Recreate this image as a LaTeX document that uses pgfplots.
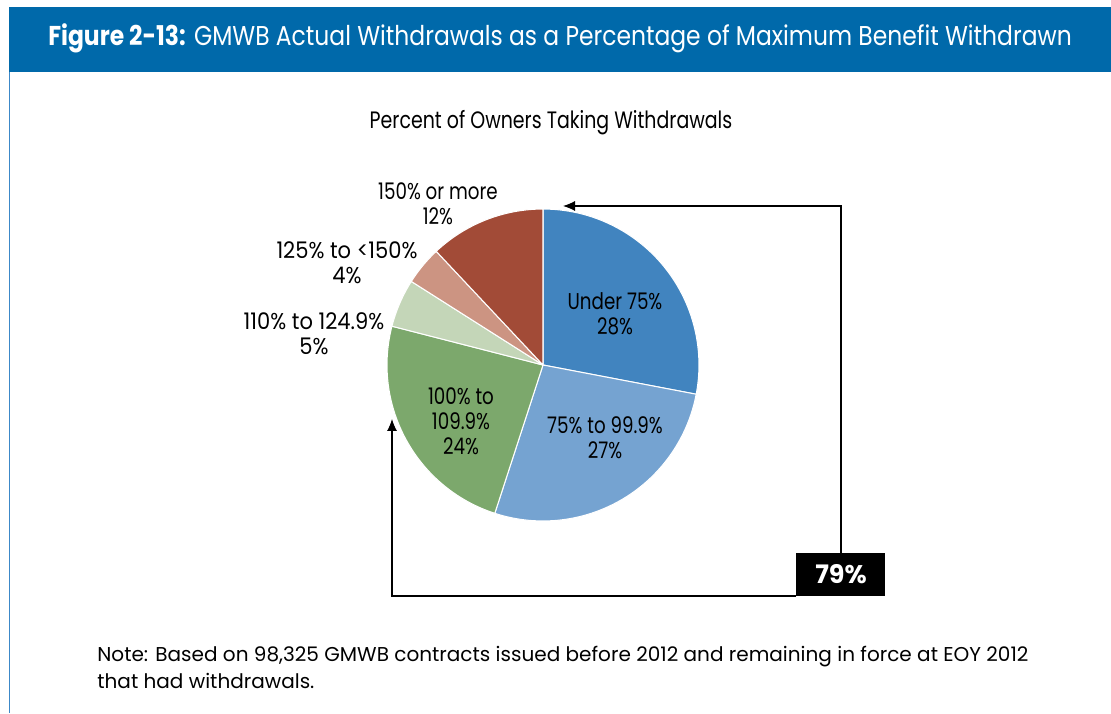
\documentclass[border=0pt]{standalone}
\usepackage{pgfplots}
\pgfplotsset{compat=1.18}
\usepackage{pgfplotstable}
\usetikzlibrary{arrows.meta}
\usepackage{fontspec}
\setmainfont{Poppins}
\newfontfamily\condfont{Poppins}[FakeStretch=0.80, Numbers=Monospaced]
\newfontfamily\widecond{Poppins}[FakeStretch=0.92, Numbers=Monospaced]
\newfontfamily\headfont{Poppins}[FakeStretch=0.86]

\definecolor{barblue}{HTML}{0069AA}
\definecolor{frameblue}{HTML}{3C88C8}
\definecolor{pie0}{HTML}{4184BF}
\definecolor{pie1}{HTML}{75A3D1}
\definecolor{pie2}{HTML}{7CA86C}
\definecolor{pie3}{HTML}{C4D6B8}
\definecolor{pie4}{HTML}{CC9482}
\definecolor{pie5}{HTML}{A24B37}

% share of owners, clockwise from 12 o'clock
\pgfplotstableread{
idx pct
0 28
1 27
2 24
3 5
4 4
5 12
}\piedata

\begin{document}
\begin{tikzpicture}
\begin{axis}[
    x=0.02cm, y=0.02cm,
    xmin=0, xmax=1111, ymin=0, ymax=713,
    scale only axis, hide axis, clip=false,
]
\path (axis cs:0,0) rectangle (axis cs:1111,713);

% header bar and frame
\fill[barblue] (axis cs:9,706) rectangle (axis cs:1111,641);
\draw[frameblue, line width=0.7pt] (axis cs:9.5,641) -- (axis cs:9.5,0);
\node[anchor=west, text=white, font=\headfont\fontsize{15.5}{18}\selectfont, inner sep=0pt]
  at (axis cs:48,675) {\textbf{Figure 2-13:} GMWB Actual Withdrawals as a Percentage of Maximum Benefit Withdrawn};

\node[font=\condfont\fontsize{13.5}{16}\selectfont] at (axis cs:551,590) {Percent of Owners Taking Withdrawals};

% pie slices
\def\angacc{90}
\pgfplotsinvokeforeach{0,...,5}{
  \pgfplotstablegetelem{#1}{pct}\of\piedata
  \pgfmathsetmacro\a{\angacc}
  \pgfmathsetmacro\b{\angacc-3.6*\pgfplotsretval}
  \edef\temp{\noexpand\fill[pie#1, draw=white, line width=0.6pt, line join=round]
    (axis cs:543,348) -- ++(\a:3.12cm) arc[start angle=\a, end angle=\b, radius=3.12cm] -- cycle;}
  \temp
  \global\let\angacc\b
}

% slice labels
\tikzset{lab/.style={align=center, inner sep=0pt, font=\condfont\fontsize{13}{14.2}\selectfont}}
\node[lab] at (axis cs:615,399) {Under 75\%\\28\%};
\node[lab] at (axis cs:605,275) {75\% to 99.9\%\\27\%};
\node[lab] at (axis cs:461,292) {100\% to\\109.9\%\\24\%};
\node[lab, font=\widecond\fontsize{13}{14.2}\selectfont] at (axis cs:314,379) {110\% to 124.9\%\\5\%};
\node[lab, font=\widecond\fontsize{13}{14.2}\selectfont] at (axis cs:347,450) {125\% to <150\%\\4\%};
\node[lab] at (axis cs:438,509) {150\% or more\\12\%};

% 79% bracket
\draw[-{Latex[length=2.4mm,width=2mm]}, line width=0.6pt]
  (axis cs:841,160) -- (axis cs:841,507) -- (axis cs:563,507);
\draw[-{Latex[length=2.4mm,width=2mm]}, line width=0.6pt]
  (axis cs:796,117) -- (axis cs:392,117) -- (axis cs:392,294);
\fill[black] (axis cs:796,117) rectangle (axis cs:885,160);
\node[text=white, font=\bfseries\fontsize{14.5}{17}\selectfont] at (axis cs:841,138.5) {79\%};

% note
\node[anchor=base west, inner sep=0pt, font=\fontsize{11.4}{14}\selectfont] at (axis cs:97,51)
  {Note: Based on 98,325 GMWB contracts issued before 2012 and remaining in force at EOY 2012};
\node[anchor=base west, inner sep=0pt, font=\fontsize{11.4}{14}\selectfont] at (axis cs:97,24)
  {that had withdrawals.};
\end{axis}
\end{tikzpicture}
\end{document}
